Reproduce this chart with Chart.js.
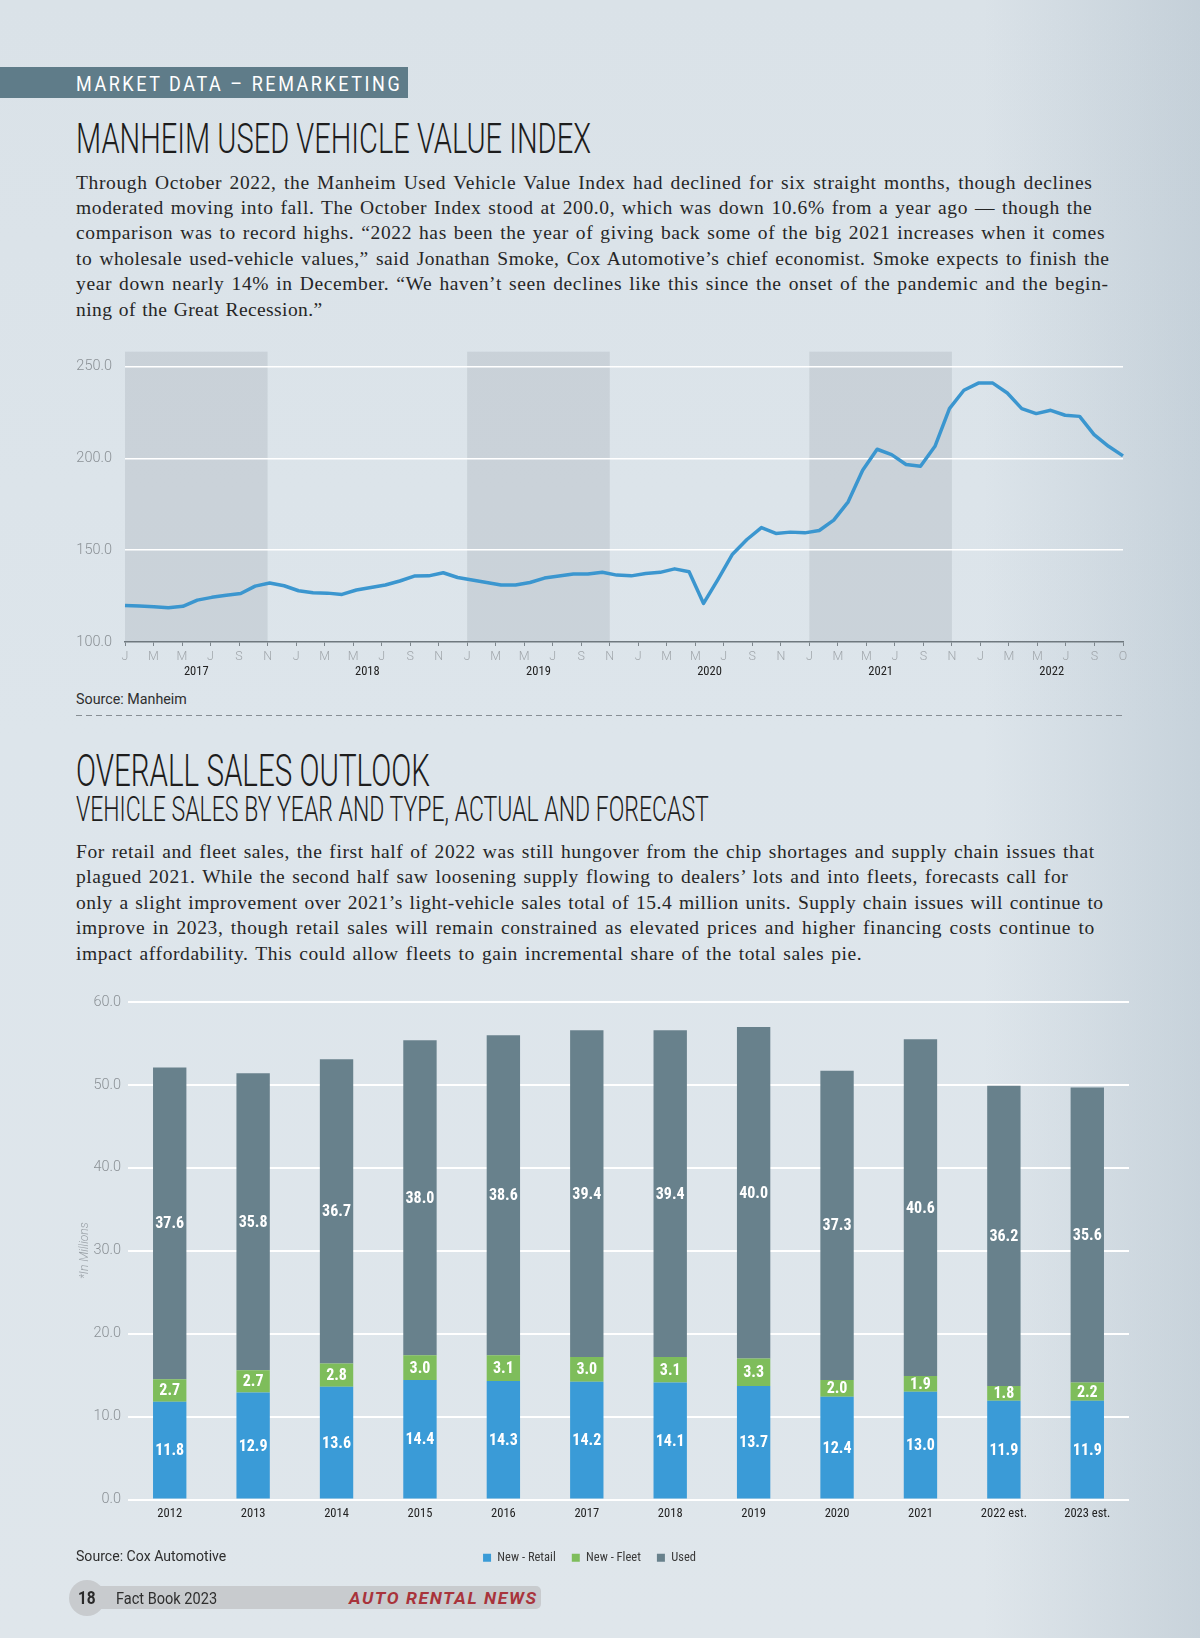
<!DOCTYPE html>
<html>
<head>
<meta charset="utf-8">
<script src="https://cdn.jsdelivr.net/npm/chart.js@4.4.1/dist/chart.umd.min.js"></script>
<style>
  body { margin: 0; }
  #page {
    position: relative; width: 1200px; height: 1638px; overflow: hidden;
    background:
      linear-gradient(90deg, rgba(255,255,255,0) 0%, rgba(255,255,255,0) 82%, rgba(110,135,155,0.20) 100%),
      linear-gradient(180deg, #dae2e8 0%, #dde5eb 45%, #dfe6eb 100%);
    font-family: Roboto, sans-serif;
  }
  .abs { position: absolute; white-space: nowrap; line-height: 1; }
  .fit { display: inline-block; transform-origin: 0 0; }
  .head { font-weight: 300; color: #1d1d1d; }
  .para { position: absolute; left: 76px; font-family: 'Liberation Serif', 'DejaVu Serif', serif; font-size: 19.5px; line-height: 25.4px; color: #262626; }
  .para div { white-space: nowrap; }
  .para span { display: inline-block; }
  .box { position: absolute; left: 0; width: 1200px; }
</style>
</head>
<body>
<div id="page">
  <div class="abs" style="left:0;top:67px;width:408px;height:31px;background:#5f7c89;"></div>
  <div class="abs fit" data-w="326" style="left:76px;top:73.5px;font-size:21px;color:#fff;letter-spacing:3px;">MARKET DATA – REMARKETING</div>

  <div class="abs fit head" data-w="515" style="left:76px;top:116.5px;font-size:43px;">MANHEIM USED VEHICLE VALUE INDEX</div>

  <div class="para" style="top:169.5px;">
    <div><span data-w="1016.5">Through October 2022, the Manheim Used Vehicle Value Index had declined for six straight months, though declines</span></div>
    <div><span data-w="1016.5">moderated moving into fall. The October Index stood at 200.0, which was down 10.6% from a year ago — though the</span></div>
    <div><span data-w="1029">comparison was to record highs. “2022 has been the year of giving back some of the big 2021 increases when it comes</span></div>
    <div><span data-w="1033">to wholesale used-vehicle values,” said Jonathan Smoke, Cox Automotive’s chief economist. Smoke expects to finish the</span></div>
    <div><span data-w="1033">year down nearly 14% in December. “We haven’t seen declines like this since the onset of the pandemic and the begin-</span></div>
    <div><span data-w="246.7">ning of the Great Recession.”</span></div>
  </div>

  <div class="box" style="top:330px;height:355px;"><canvas id="indexChart"></canvas></div>

  <div class="abs fit" data-w="111" style="left:76px;top:691.5px;font-size:14.8px;color:#2e2e2e;">Source: Manheim</div>
  <div class="abs" style="left:76px;top:715px;width:1047px;height:1.3px;background:repeating-linear-gradient(90deg,#878e94 0 6px,transparent 6px 10px);"></div>

  <div class="abs fit head" data-w="354" style="left:76px;top:748.5px;font-size:44px;">OVERALL SALES OUTLOOK</div>
  <div class="abs fit head" data-w="633" style="left:76px;top:791.5px;font-size:35px;">VEHICLE SALES BY YEAR AND TYPE, ACTUAL AND FORECAST</div>

  <div class="para" style="top:839px;">
    <div><span data-w="1018.6">For retail and fleet sales, the first half of 2022 was still hungover from the chip shortages and supply chain issues that</span></div>
    <div><span data-w="992.4">plagued 2021. While the second half saw loosening supply flowing to dealers’ lots and into fleets, forecasts call for</span></div>
    <div><span data-w="1028">only a slight improvement over 2021’s light-vehicle sales total of 15.4 million units. Supply chain issues will continue to</span></div>
    <div><span data-w="1018.6">improve in 2023, though retail sales will remain constrained as elevated prices and higher financing costs continue to</span></div>
    <div><span data-w="786.7">impact affordability. This could allow fleets to gain incremental share of the total sales pie.</span></div>
  </div>

  <div class="box" style="top:985px;height:590px;"><canvas id="salesChart"></canvas></div>

  <div class="abs fit" data-w="150.6" style="left:76px;top:1548.8px;font-size:14.8px;color:#2e2e2e;">Source: Cox Automotive</div>

  <div class="abs" style="left:86px;top:1585.5px;width:455px;height:23px;background:#c8cbce;border-radius:0 5px 5px 0;"></div>
  <div class="abs" style="left:68.5px;top:1579.5px;width:36px;height:36px;background:#c8cbce;border-radius:50%;"></div>
  <div class="abs fit" data-w="18" style="left:78px;top:1588.5px;font-size:18px;font-weight:700;color:#2a2a2a;">18</div>
  <div class="abs fit" data-w="101" style="left:116px;top:1589.5px;font-size:17px;color:#2f2f2f;">Fact Book 2023</div>
  <div class="abs fit" data-w="189" style="left:349px;top:1589.5px;font-size:17px;font-weight:700;font-style:italic;color:#a8333b;letter-spacing:1.5px;">AUTO RENTAL NEWS</div>
</div>

<script>
// Manheim index, monthly, Jan 2017 - Oct 2022
const indexValues = [
  119.9, 119.6, 119.2, 118.7, 119.4, 122.8, 124.3, 125.5, 126.4, 130.4, 132.1, 130.6,
  127.9, 126.8, 126.6, 125.9, 128.3, 129.7, 131.0, 133.2, 135.9, 136.0, 137.7, 135.1,
  133.7, 132.4, 131.0, 131.0, 132.4, 134.8, 135.9, 137.0, 137.0, 138.0, 136.4, 136.0,
  137.3, 137.9, 139.8, 138.2, 121.0, 134.1, 147.8, 155.8, 162.3, 159.1, 159.8, 159.4,
  160.7, 166.3, 176.3, 193.5, 204.9, 202.0, 196.6, 195.7, 206.5, 227.0, 237.0, 240.9,
  240.9, 235.5, 227.0, 224.3, 226.1, 223.4, 222.8, 212.9, 206.5, 201.3
];
const tickLetters = [
  'J', 'M', 'M', 'J', 'S', 'N',
  'J', 'M', 'M', 'J', 'S', 'N',
  'J', 'M', 'M', 'J', 'S', 'N',
  'J', 'M', 'M', 'J', 'S', 'N',
  'J', 'M', 'M', 'J', 'S', 'N',
  'J', 'M', 'M', 'J', 'S', 'O'
];
const yearLabels = ['2017', '2018', '2019', '2020', '2021', '2022'];
// shaded years, from their J tick to their N tick
const shadedTicks = [[0, 5], [12, 17], [24, 29]];

// vehicle sales, millions
const salesYears = ['2012', '2013', '2014', '2015', '2016', '2017', '2018', '2019', '2020', '2021', '2022 est.', '2023 est.'];
const newRetail = [11.8, 12.9, 13.6, 14.4, 14.3, 14.2, 14.1, 13.7, 12.4, 13.0, 11.9, 11.9];
const newFleet = [2.7, 2.7, 2.8, 3.0, 3.1, 3.0, 3.1, 3.3, 2.0, 1.9, 1.8, 2.2];
const used = [37.6, 35.8, 36.7, 38.0, 38.6, 39.4, 39.4, 40.0, 37.3, 40.6, 36.2, 35.6];

const NARROW = "'Roboto Condensed', 'Liberation Sans Narrow', 'DejaVu Sans Condensed', 'Arial Narrow', sans-serif";

// stretch headings and body lines to the widths of the printed page
function fitText() {
  document.querySelectorAll('.fit').forEach(el => {
    el.style.transform = 'none';
    el.style.transform = 'scaleX(' + (+el.dataset.w / el.offsetWidth) + ')';
  });
  document.querySelectorAll('.para span').forEach(el => {
    el.style.letterSpacing = '0px';
    el.style.wordSpacing = '0px';
    const diff = +el.dataset.w - el.offsetWidth;
    const text = el.textContent;
    const spaces = (text.match(/ /g) || []).length || 1;
    el.style.letterSpacing = (diff * 0.7 / text.length) + 'px';
    const rest = +el.dataset.w - el.offsetWidth;
    el.style.wordSpacing = (rest / spaces) + 'px';
  });
}
fitText();
if (document.fonts) document.fonts.ready.then(fitText);

const bands = {
  id: 'bands',
  beforeDraw(chart) {
    const {ctx, chartArea} = chart;
    const xt = chart.scales.xt;
    ctx.save();
    ctx.fillStyle = 'rgba(130,142,152,0.20)';
    shadedTicks.forEach(([a, b]) => {
      const x0 = xt.getPixelForValue(a);
      const x1 = xt.getPixelForValue(b);
      ctx.fillRect(x0, chartArea.top, x1 - x0, chartArea.bottom - chartArea.top);
    });
    ctx.restore();
  }
};

new Chart(document.getElementById('indexChart'), {
  type: 'line',
  data: {
    labels: indexValues.map((v, i) => yearLabels[Math.floor(i / 12)] + '-' + (i % 12 + 1)),
    datasets: [{
      data: indexValues,
      borderColor: '#3b96cf',
      borderWidth: 3.5,
      borderJoinStyle: 'round',
      pointRadius: 0,
      tension: 0,
      xAxisID: 'x',
      yAxisID: 'y'
    }]
  },
  options: {
    responsive: true,
    maintainAspectRatio: false,
    animation: false,
    layout: { padding: { top: 0, right: 77, bottom: 1, left: 0 } },
    plugins: { legend: { display: false }, tooltip: { enabled: false } },
    scales: {
      x: { display: false },
      xt: {
        type: 'category',
        labels: tickLetters,
        position: 'bottom',
        weight: 1,
        offset: false,
        grid: { drawOnChartArea: false, tickLength: 4, color: '#7d868c' },
        border: { display: true, color: '#6f787e', width: 1.5 },
        ticks: { autoSkip: false, maxRotation: 0, padding: 3, color: '#a0a6ab', font: { family: 'Roboto', size: 12.5, weight: 300 } },
        afterFit: s => { s.height = 20; }
      },
      xy: {
        type: 'linear',
        position: 'bottom',
        weight: 2,
        min: 0,
        max: 35,
        grid: { display: false, drawTicks: false },
        border: { display: false },
        afterBuildTicks: s => { s.ticks = yearLabels.map((y, k) => ({ value: k * 6 + 2.5 })); },
        ticks: {
          autoSkip: false, maxRotation: 0, padding: 2, color: '#222',
          font: { family: NARROW, size: 12.5 },
          callback: v => yearLabels[Math.round((v - 2.5) / 6)]
        },
        afterFit: s => { s.height = 22; }
      },
      y: {
        min: 100,
        max: 258,
        ticks: {
          stepSize: 50, includeBounds: false, padding: 13, color: '#8b9196',
          font: { family: 'Roboto', size: 14.5, weight: 300 },
          callback: v => v.toFixed(1)
        },
        grid: { color: c => (c.tick && c.tick.value === 100) ? 'rgba(0,0,0,0)' : '#ffffff', lineWidth: 1.5, drawTicks: false },
        border: { display: false },
        afterFit: s => { s.width = 125; }
      }
    }
  },
  plugins: [bands]
});

const barLabels = {
  id: 'barLabels',
  afterDatasetsDraw(chart) {
    const ctx = chart.ctx;
    ctx.save();
    ctx.font = 'bold 16px ' + NARROW;
    ctx.fillStyle = '#ffffff';
    ctx.textAlign = 'center';
    ctx.textBaseline = 'middle';
    chart.data.datasets.forEach((ds, di) => {
      chart.getDatasetMeta(di).data.forEach((bar, i) => {
        const {x, y, base} = bar.getProps(['x', 'y', 'base'], true);
        ctx.fillText(ds.data[i].toFixed(1), x, (y + base) / 2 + 1);
      });
    });
    ctx.restore();
  }
};

new Chart(document.getElementById('salesChart'), {
  type: 'bar',
  data: {
    labels: salesYears,
    datasets: [
      { label: 'New - Retail', data: newRetail, backgroundColor: '#3a9bd7' },
      { label: 'New - Fleet', data: newFleet, backgroundColor: '#7ebd5b' },
      { label: 'Used', data: used, backgroundColor: '#68818c' }
    ]
  },
  options: {
    responsive: true,
    maintainAspectRatio: false,
    animation: false,
    datasets: { bar: { barPercentage: 0.4, categoryPercentage: 1 } },
    layout: { padding: { top: 17, right: 71, bottom: 1, left: 50 } },
    plugins: {
      tooltip: { enabled: false },
      legend: {
        position: 'bottom',
        labels: { boxWidth: 8, boxHeight: 8, padding: 16, color: '#3a3a3a', font: { family: NARROW, size: 12.5 } }
      }
    },
    scales: {
      x: {
        stacked: true,
        grid: { display: false, drawTicks: false },
        border: { display: false },
        ticks: { autoSkip: false, maxRotation: 0, padding: 7, color: '#222', font: { family: NARROW, size: 12.5 } },
        afterFit: s => { s.height = 36; }
      },
      y: {
        stacked: true,
        min: 0,
        max: 60,
        ticks: {
          stepSize: 10, padding: 7, color: '#8b9196',
          font: { family: 'Roboto', size: 14.5, weight: 300 },
          callback: v => v.toFixed(1)
        },
        grid: { color: '#ffffff', lineWidth: 2, drawTicks: false },
        border: { display: false },
        title: {
          display: true, text: '*In Millions', color: '#9aa1a7',
          font: { family: 'Roboto', size: 12, style: 'italic', weight: 300 },
          padding: { top: 28, bottom: 0 }
        },
        afterFit: s => { s.width = 78; }
      }
    }
  },
  plugins: [barLabels]
});
</script>
</body>
</html>
